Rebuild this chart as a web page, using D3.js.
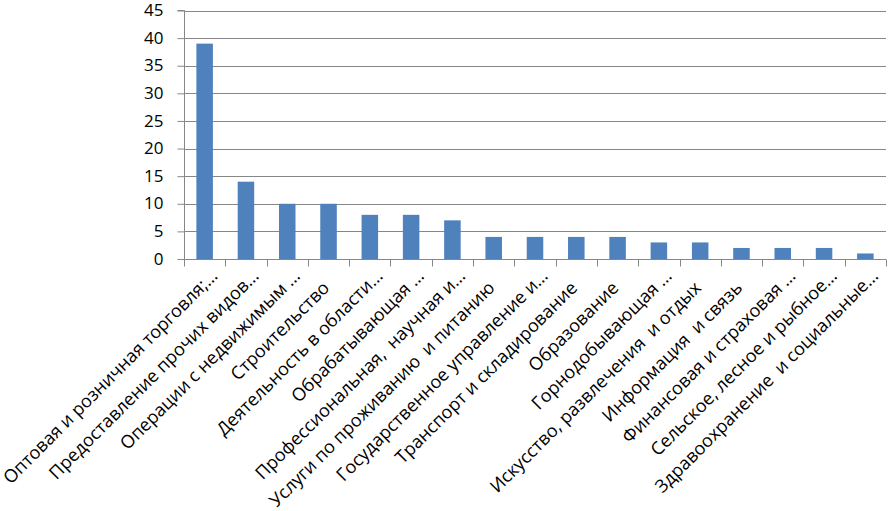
<!DOCTYPE html>
<html><head><meta charset="utf-8">
<script src="https://cdn.jsdelivr.net/npm/d3@7"></script>
<style>body{margin:0;background:#fff}svg{display:block}</style>
</head><body>
<svg id="c" width="893" height="511"></svg>
<script>
const categories = [
  "Оптовая и розничная торговля;…",
  "Предоставление прочих видов…",
  "Операции с недвижимым …",
  "Строительство",
  "Деятельность в области…",
  "Обрабатывающая …",
  "Профессиональная,  научная и…",
  "Услуги по проживанию  и питанию",
  "Государственное управление и…",
  "Транспорт и складирование",
  "Образование",
  "Горнодобывающая …",
  "Искусство, развлечения  и отдых",
  "Информация  и связь",
  "Финансовая и страховая …",
  "Сельское, лесное и рыбное…",
  "Здравоохранение  и социальные…"
];
const values = [39, 14, 10, 10, 8, 8, 7, 4, 4, 4, 4, 3, 3, 2, 2, 2, 1];
const yTicks = [0, 5, 10, 15, 20, 25, 30, 35, 40, 45];

const svg = d3.select("#c");
const L = 184, R = 886, T = 10.5, B = 259;
const font = "Open Sans, sans-serif";
const grey = "#878787";

const x = d3.scaleBand().domain(categories).range([L, R]).paddingInner(0).paddingOuter(0);
const y = d3.scaleLinear().domain([0, 45]).range([B, T]);

// gridlines
svg.append("g").selectAll("line").data(yTicks.filter(d => d > 0)).join("line")
  .attr("x1", L).attr("x2", R)
  .attr("y1", d => Math.round(y(d)) + 0.5).attr("y2", d => Math.round(y(d)) + 0.5)
  .attr("stroke", grey).attr("stroke-width", 1);

// bars
const bw = x.bandwidth() / 2.5;
svg.append("g").selectAll("rect").data(values).join("rect")
  .attr("x", (d, i) => x(categories[i]) + x.bandwidth() / 2 - bw / 2)
  .attr("width", bw)
  .attr("y", d => y(d))
  .attr("height", d => B - y(d))
  .attr("fill", "#4F81BD");

// y axis
const yAxis = d3.axisLeft(y).tickValues(yTicks).tickSize(7).tickPadding(14);
const gy = svg.append("g").attr("transform", `translate(${L + 0.5},0)`).call(yAxis);
gy.select(".domain").attr("stroke", grey).attr("d", `M-7,${y(45)}H0V${B}`);
gy.selectAll(".tick line").attr("stroke", grey);
gy.selectAll(".tick text").attr("font-family", font).attr("font-size", 17).attr("fill", "#000").attr("dy", "0.3em");

// x axis
const xAxis = d3.axisBottom(x).tickSize(0).tickFormat("");
const gx = svg.append("g").attr("transform", `translate(0,${Math.round(B) + 0.5})`).call(xAxis);
gx.select(".domain").attr("stroke", grey).attr("d", `M${L},0H${R}`);
const bounds = categories.map(c => x(c)).concat([R]);
gx.selectAll(".bt").data(bounds).join("line").attr("class", "bt")
  .attr("x1", d => Math.round(d) + 0.5).attr("x2", d => Math.round(d) + 0.5)
  .attr("y1", 0).attr("y2", 7).attr("stroke", grey);

// category labels
svg.append("g").selectAll("text").data(categories).join("text")
  .attr("transform", d => `translate(${x(d) + x.bandwidth() / 2 + 14},277) rotate(-45)`)
  .attr("dx", d => d.endsWith("…") ? 0 : -17)
  .attr("text-anchor", "end")
  .attr("font-family", font).attr("font-size", 18).attr("fill", "#000")
  .style("white-space", "pre")
  .text(d => d);
</script>
</body></html>
